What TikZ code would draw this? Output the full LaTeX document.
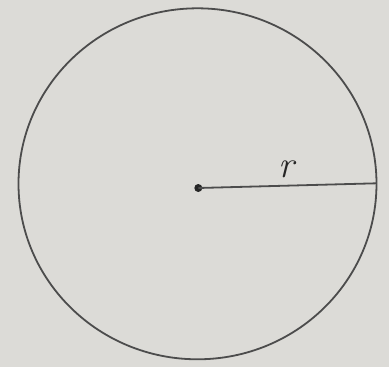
\documentclass[tikz,border=0pt]{standalone}
\begin{document}
\begin{tikzpicture}[x=1bp,y=-1bp,
  outline/.style={draw=black!70, line width=1.8bp},
  radiusline/.style={draw=black!70, line width=1.8bp},
  lbl/.style={font=\fontsize{38}{38}\selectfont\itshape, text=black!85, inner sep=0pt}]
\fill[fill={rgb,255:red,220;green,219;blue,215}] (0,0) rectangle (389,367);
\useasboundingbox (0,0) rectangle (389,367);
\draw[outline] (197.5,183.8) ellipse [x radius=179, y radius=175.5];
\node[circle, fill=black!85, inner sep=0pt, minimum size=8bp] (c) at (198.3,188) {};
\coordinate (e) at (376.5,183.3);
\draw[radiusline] (c.center) -- (e);
\node[lbl] (r) at (286,169) {r};
\end{tikzpicture}
\end{document}
